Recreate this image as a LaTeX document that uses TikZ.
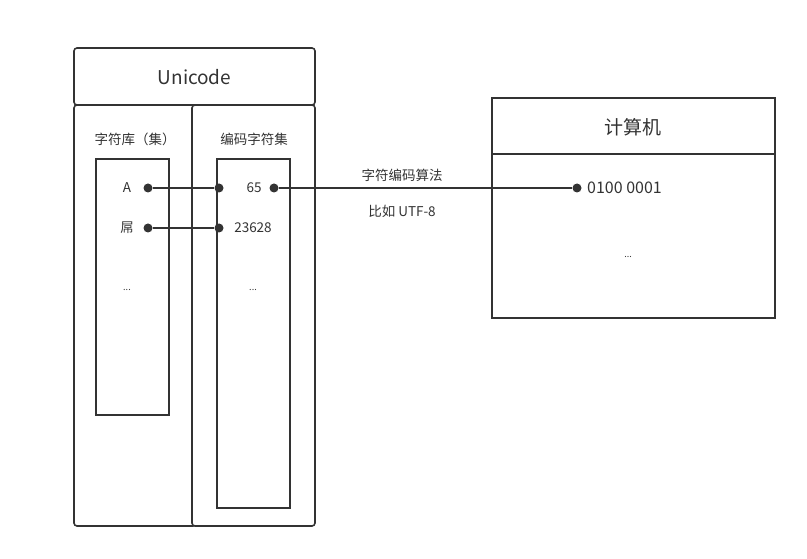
\documentclass[tikz,border=0pt]{standalone}
\usepackage{fontspec}
\setmainfont{Noto Sans CJK SC}
\definecolor{ink}{HTML}{333333}
\tikzset{
  box/.style={draw=ink, line width=1.6pt, rounded corners=3pt},
  plain/.style={draw=ink, line width=1.6pt},
  dot/.style={circle, fill=ink, inner sep=0pt, minimum size=9pt},
  link/.style={draw=ink, line width=1.6pt},
  lbl/.style={text=ink, inner sep=0pt, font=\fontsize{13.5}{15}\selectfont},
  title/.style={text=ink, inner sep=0pt, font=\fontsize{19}{22}\selectfont},
  dots/.style={text=ink, inner sep=0pt, font=\fontsize{9}{10}\selectfont}
}
\begin{document}
\begin{tikzpicture}[x=1pt,y=-1pt]
\useasboundingbox (0,0) rectangle (807,559);

% Unicode block
\draw[box] (74,48) rectangle (315,105);
\node[title] (unicode) at (194.5,77) {Unicode};
\draw[box] (74,105) rectangle (196,526);
\draw[box, fill=white] (192,105) rectangle (315,526);
\node[lbl] (charset) at (135,139) {字符库（集）};
\node[lbl] (codeset) at (254,139) {编码字符集};
\draw[plain] (96,159) rectangle (169,415);
\draw[plain] (217,159) rectangle (290,508);

% characters
\node[lbl] (chA) at (127,188) {A};
\node[dot] (dA) at (148,188) {};
\node[lbl] (chB) at (127,228) {屌};
\node[dot] (dB) at (148,228) {};
\node[dots] (moreL) at (127,290) {...};

% code points
\node[dot] (cA) at (219,188) {};
\node[lbl] (n65) at (254,188) {65};
\node[dot] (eA) at (274,188) {};
\node[dot] (cB) at (219,228) {};
\node[lbl] (n23628) at (253,228) {23628};
\node[dots] (moreR) at (253,290) {...};

\draw[link] (dA) -- (cA);
\draw[link] (dB) -- (cB);

% computer
\draw[plain] (492,98) rectangle (775,318);
\draw[plain] (492,154) -- (775,154);
\node[title] (pc) at (633,127) {计算机};
\node[dot] (bA) at (577,188) {};
\node[text=ink, inner sep=0pt, anchor=west, font=\fontsize{16}{18}\selectfont] (bits) at (587,188) {0100 0001};
\node[dots] (morePC) at (628,257) {...};

\draw[link] (eA) -- (bA);
\node[lbl] (algo) at (402,175) {字符编码算法};
\node[lbl] (utf) at (402,211) {比如 UTF-8};
\end{tikzpicture}
\end{document}
